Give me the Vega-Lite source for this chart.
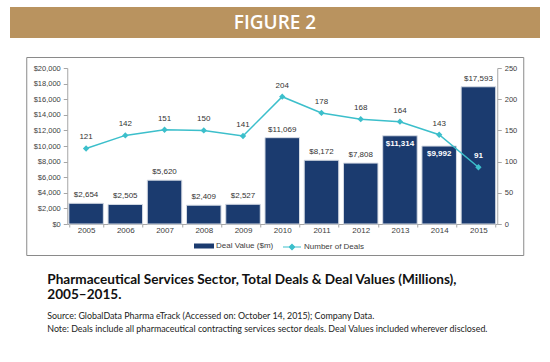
{
  "$schema": "https://vega.github.io/schema/vega-lite/v6.json",
  "padding": {"left": 10, "top": 7, "right": 10, "bottom": 5},
  "background": "white",
  "config": {"view": {"stroke": null}, "font": "Liberation Sans"},
  "datasets": {
    "main": [
      {"year": 2005, "value": 2654, "deals": 121},
      {"year": 2006, "value": 2505, "deals": 142},
      {"year": 2007, "value": 5620, "deals": 151},
      {"year": 2008, "value": 2409, "deals": 150},
      {"year": 2009, "value": 2527, "deals": 141},
      {"year": 2010, "value": 11069, "deals": 204},
      {"year": 2011, "value": 8172, "deals": 178},
      {"year": 2012, "value": 7808, "deals": 168},
      {"year": 2013, "value": 11314, "deals": 164},
      {"year": 2014, "value": 9992, "deals": 143},
      {"year": 2015, "value": 17593, "deals": 91}
    ],
    "banner": [{"label": "FIGURE 2"}]
  },
  "vconcat": [
    {
      "width": 530,
      "height": 31,
      "view": {"fill": "#b9935f", "stroke": null},
      "data": {"name": "banner"},
      "mark": {"type": "text", "font": "Open Sans", "fontWeight": 600, "fontSize": 19, "color": "#ffffff", "baseline": "middle", "align": "center"},
      "encoding": {"text": {"field": "label", "type": "nominal"}}
    },
    {
      "width": 497,
      "height": 198,
      "view": {"stroke": "#8a8a8a", "strokeWidth": 1, "fill": "white"},
      "data": {"name": "main"},
      "title": {
        "text": ["Pharmaceutical Services Sector, Total Deals & Deal Values (Millions),", "2005–2015."],
        "subtitle": ["Source: GlobalData Pharma eTrack (Accessed on: October 14, 2015); Company Data.", "Note: Deals include all pharmaceutical contracting services sector deals. Deal Values included wherever disclosed."],
        "orient": "bottom",
        "anchor": "start",
        "frame": "group",
        "font": "Lato",
        "fontSize": 13.6,
        "fontWeight": "bold",
        "color": "#111111",
        "lineHeight": 15,
        "subtitleFont": "Lato",
        "subtitleFontSize": 8.9,
        "subtitleColor": "#222222",
        "subtitleLineHeight": 13.5,
        "subtitlePadding": 10,
        "offset": 18,
        "dx": 21
      },
      "encoding": {
        "x": {
          "field": "year",
          "type": "ordinal",
          "scale": {"range": [41, 471], "paddingInner": 0.12, "paddingOuter": 0.04},
          "axis": {
            "title": null,
            "labelAngle": 0,
            "offset": -31,
            "tickBand": "extent",
            "tickSize": 3,
            "domainColor": "#a6a6a6",
            "tickColor": "#a6a6a6",
            "labelFontSize": 8,
            "labelColor": "#404040",
            "labelPadding": -1
          }
        }
      },
      "layer": [
        {
          "encoding": {
            "y": {
              "field": "value",
              "type": "quantitative",
              "scale": {"domain": [0, 20000], "range": [167, 11]},
              "axis": {
                "title": null,
                "orient": "left",
                "offset": -41,
                "format": "$,.0f",
                "values": [0, 2000, 4000, 6000, 8000, 10000, 12000, 14000, 16000, 18000, 20000],
                "grid": false,
                "tickSize": 4,
                "domainColor": "#a6a6a6",
                "tickColor": "#a6a6a6",
                "labelFontSize": 7.5,
                "labelColor": "#404040",
                "labelPadding": 3
              }
            }
          },
          "layer": [
            {
              "mark": {"type": "bar", "stroke": "#d5dbe4", "strokeWidth": 1},
              "encoding": {
                "color": {
                  "datum": "Deal Value ($m)",
                  "type": "nominal",
                  "scale": {"range": ["#1b3b6f"]},
                  "legend": {
                    "orient": "none",
                    "legendX": 184,
                    "legendY": 229,
                    "title": null,
                    "symbolType": "M-1,-0.25H1V0.25H-1Z",
                    "symbolSize": 400,
                    "symbolStrokeWidth": 0,
                    "labelFontSize": 8,
                    "labelColor": "#404040",
                    "labelOffset": 2
                  }
                }
              }
            },
            {
              "transform": [{"filter": "datum.year != 2013 && datum.year != 2014"}],
              "mark": {"type": "text", "dy": -8, "baseline": "middle", "fontSize": 8, "color": "#333333"},
              "encoding": {"text": {"field": "value", "type": "quantitative", "format": "$,.0f"}}
            },
            {
              "transform": [{"filter": "datum.year == 2013 || datum.year == 2014"}],
              "mark": {"type": "text", "dy": 8, "baseline": "middle", "fontSize": 8, "fontWeight": "bold", "color": "#ffffff"},
              "encoding": {"text": {"field": "value", "type": "quantitative", "format": "$,.0f"}}
            }
          ]
        },
        {
          "encoding": {
            "y": {
              "field": "deals",
              "type": "quantitative",
              "scale": {"domain": [0, 250], "range": [167, 11]},
              "axis": {
                "title": null,
                "orient": "right",
                "offset": -26,
                "values": [0, 50, 100, 150, 200, 250],
                "grid": false,
                "tickSize": 4,
                "domainColor": "#a6a6a6",
                "tickColor": "#a6a6a6",
                "labelFontSize": 7.5,
                "labelColor": "#404040",
                "labelPadding": 3
              }
            }
          },
          "layer": [
            {
              "mark": {"type": "line", "strokeWidth": 1.5},
              "encoding": {
                "stroke": {
                  "datum": "Number of Deals",
                  "type": "nominal",
                  "scale": {"range": ["#3cbfcb"]},
                  "legend": {
                    "orient": "none",
                    "legendX": 272,
                    "legendY": 230,
                    "title": null,
                    "symbolType": "M-1,0H1M0,-0.3L0.3,0L0,0.3L-0.3,0Z",
                    "symbolSize": 324,
                    "symbolStrokeWidth": 1.2,
                    "symbolFillColor": "#3cbfcb",
                    "labelFontSize": 8,
                    "labelColor": "#404040",
                    "labelOffset": 2
                  }
                }
              }
            },
            {
              "mark": {"type": "point", "shape": "diamond", "size": 40, "filled": true, "color": "#3cbfcb", "opacity": 1}
            },
            {
              "transform": [{"filter": "datum.year != 2015"}],
              "mark": {"type": "text", "dy": -11, "baseline": "middle", "fontSize": 8, "color": "#333333"},
              "encoding": {"text": {"field": "deals", "type": "quantitative"}}
            },
            {
              "transform": [{"filter": "datum.year == 2015"}],
              "mark": {"type": "text", "dy": -11, "baseline": "middle", "fontSize": 8, "fontWeight": "bold", "color": "#ffffff"},
              "encoding": {"text": {"field": "deals", "type": "quantitative"}}
            }
          ]
        }
      ],
      "resolve": {"scale": {"y": "independent"}}
    }
  ],
  "spacing": 18,
  "center": true
}
